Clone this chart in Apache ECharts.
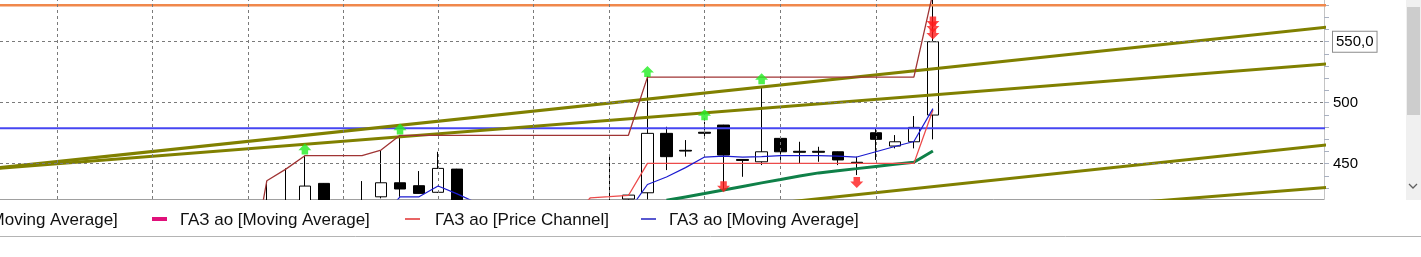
<!DOCTYPE html>
<html><head><meta charset="utf-8">
<script src="https://cdn.jsdelivr.net/npm/echarts@6/dist/echarts.min.js"></script>
<style>html,body{margin:0;padding:0;background:#fff;overflow:hidden}#c{width:1421px;height:257px}</style>
</head><body><div id="c"></div>
<script>
// ---- data (bar index along the time axis, prices in roubles) ----
const candleIdx   = [14,15,16,17,19,20,21,22,23,24,32,33,34,35,36,37,38,39,40,41,42,43,44,45,46,47,48,49];
const candleOpen  = [418,419,418,433.9,419,422.9,434.4,432.0,426.6,445.6,419,421.1,426.2,474.9,461.0,475.8,481.7,453.5,451.6,470.8,460.2,460.2,459.8,451.2,475.4,464.5,468.0,489.9];
const candleClose = [417,417.5,431.7,418,417.5,434.4,429.3,425.7,446.2,417,417.5,424.3,474.9,455.8,460.4,475.0,457.1,452.7,459.8,459.8,459.4,459.4,453.1,450.4,470.0,468.0,479.8,550.0];
const candleLow   = [416.5,416.5,416.5,416.5,416.5,421.6,422.9,425.5,426.0,416.5,416.5,420.6,420.8,444.8,455.8,472.1,428.4,439.3,448.9,453.1,450.3,451.6,448.9,440.7,453.1,462.6,462.6,470.0];
const candleHigh  = [435.8,446.2,456.6,434.2,435.8,461.2,473.5,444.0,459.8,445.8,458.0,424.6,521.9,480.3,469.4,484.4,481.9,453.6,512.6,471.0,468.0,463.9,460.0,455.8,479.0,473.5,489.1,590];

const chanUpIdx = [13,14,15,16,17,18,19,20,21,22,23,24,25,26,27,28,29,30,31,32,33,34,35,36,37,38,39,40,41,42,43,44,45,46,47,48,49];
const chanUp    = [350,436.0,445.6,456.6,456.6,456.6,456.6,461.2,473.3,473.3,473.3,473.3,473.3,473.3,473.3,473.3,473.3,473.3,473.3,473.3,473.3,521.0,521.0,521.0,521.0,521.0,521.0,521.0,521.0,521.0,521.0,521.0,521.0,521.0,521.0,521.0,590];
const chanLowIdx = [30,31,32,33,34,35,36,37,38,39,40,41,42,43,44,45,46,47,48,49];
const chanLow    = [405,422.1,423.0,424.0,450.3,450.3,450.3,450.3,450.3,450.3,450.3,450.3,450.3,450.3,450.3,450.3,450.3,450.3,450.3,494.0];

const maBlueIdx = [20,21,22,23,24,25,26,27,28,29,30,31,32,33,34,35,36,37,38,39,40,41,42,43,44,45,46,47,48,49];
const maBlue    = [405,422.9,422.9,431.7,425.3,418.1,null,null,null,null,null,null,null,411,433.0,439.1,446.8,455.5,456.3,455.5,455.9,456.6,456.7,456.6,456.3,455.5,459.8,464.1,468.2,495.2];
const maGreenIdx = [35,36,37,38,39,40,41,42,43,44,45,46,47,48,49];
const maGreen    = [420.0,422.8,425.6,428.5,431.4,434.3,437.1,440.0,442.5,444.3,446.0,447.8,449.5,451.2,460.4];

const buyIdx   = [16,21,34,37,40];
const buyPrice = [462.0,478.4,525.6,490.2,519.7];
const sellIdx   = [38,45,49,49,49];
const sellPrice = [431.1,434.6,566.1,562.0,556.3];

const levelOrange = 579.8;
const levelBlue = 479.0;
const trendA = [[-1,445.2],[70,562.5]];
const trendB = [[-1,445.2],[70,532.2]];
const trendC = [[35,408.1],[70,466.0]];
const trendD = [[50,406.4],[70,430.9]];

const weekIdx = [3,8,13,18,23,28,32,37,41,46];
const yLabels = [450,500,550];
const yMinorTicks = [430,440,450,460,470,480,490,500,510,520,530,540,550,560,570,580];
const legendItems = [
  {name:'ГАЗ ао [Moving Average]', color:'#e0107a', width:4, markerX:null, textX:-72},
  {name:'ГАЗ ао [Moving Average]', color:'#e0107a', width:4, markerX:152, textX:180},
  {name:'ГАЗ ао [Price Channel]', color:'#e03030', width:1.5, markerX:405, textX:435},
  {name:'ГАЗ ао [Moving Average]', color:'#2020c0', width:1.5, markerX:641, textX:669}
];

// ---- build ----
const zip = (xs, ys) => xs.map((x,i)=>[x, ys[i]]);
const candles = candleIdx.map((x,i)=>[x, candleOpen[i], candleClose[i], candleLow[i], candleHigh[i]]);
const upArrow = 'path://M6,0 L12,6 L9,6 L9,10 L3,10 L3,6 L0,6 Z';
const downArrow = 'path://M3,0 L9,0 L9,4 L12,4 L6,10 L0,4 L3,4 Z';
const FONT = '"Liberation Sans", Arial, sans-serif';

const graphics = [
  {type:'rect', shape:{x:0,y:200,width:1324,height:9}, style:{fill:'#ffffff'}, z:100, silent:true},
  {type:'rect', shape:{x:1406,y:0,width:15,height:200}, style:{fill:'#f0f0f0'}, silent:true},
  {type:'rect', shape:{x:1407,y:7,width:13,height:108}, style:{fill:'#cdcdcd'}, silent:true},
  {type:'polyline', shape:{points:[[1409,184],[1413,188],[1417,184]]}, style:{stroke:'#606060',lineWidth:1.3,fill:null}, silent:true},
  {type:'line', shape:{x1:0,y1:236.5,x2:1421,y2:236.5}, style:{stroke:'#b4b4b4',lineWidth:1}, silent:true}
];
legendItems.forEach(it=>{
  if (it.markerX !== null) graphics.push({type:'line', shape:{x1:it.markerX,y1:219,x2:it.markerX+15,y2:219}, style:{stroke:it.color,lineWidth:it.width}, z:100, silent:true});
  graphics.push({type:'text', style:{text:it.name, x:it.textX, y:220, font:'17px '+FONT, fill:'#101010', verticalAlign:'middle', textVerticalAlign:'middle'}, z:100, silent:true});
});

const lineS = (data, color, width, z) => ({type:'line', data, showSymbol:false, symbol:'none', lineStyle:{color, width}, z, silent:true, animation:false, connectNulls:false, clip:true});

const option = {
  animation:false,
  backgroundColor:'#ffffff',
  grid:{left:0, right:97, top:0, bottom:58, containLabel:false},
  xAxis:{type:'value', min:-0.02, max:69.55, axisLine:{show:true, onZero:false, lineStyle:{color:'#a0a0a0'}}, axisTick:{show:false}, axisLabel:{show:false}, splitLine:{show:false}},
  yAxis:{type:'value', position:'right', min:421.1, max:584.2, scale:true,
    axisLine:{show:true, onZero:false, lineStyle:{color:'#c4c4c4'}},
    axisTick:{show:true, customValues:yMinorTicks, length:5, lineStyle:{color:'#a8b0c0'}},
    axisLabel:{show:true, customValues:yLabels, margin:9, fontSize:15, fontFamily:FONT, color:'#000',
      formatter:v=> v===550 ? '{b|550,0}' : String(v),
      rich:{b:{fontSize:15, fontFamily:FONT, color:'#000', borderColor:'#8c8c8c', borderWidth:1, padding:[3,3,2,3], backgroundColor:'#fff'}}},
    splitLine:{show:false}},
  graphic:graphics,
  series:[
    {type:'scatter', data:[], z:1, silent:true,
      markLine:{silent:true, symbol:['none','none'], label:{show:false}, animation:false,
        lineStyle:{color:'#7a7a7a', type:[3,3], width:1},
        data: weekIdx.map(v=>({xAxis:v})).concat(yLabels.map(v=>({yAxis:v})))}},
    {type:'candlestick', data:candles, barWidth:12, z:3, silent:true, clip:true,
      itemStyle:{color:'#ffffff', color0:'#000000', borderColor:'#000000', borderColor0:'#000000', borderWidth:1}},
    lineS([[-1,levelOrange],[70,levelOrange]], '#f0884c', 2.5, 4),
    lineS([[-1,levelBlue],[70,levelBlue]], '#4646f2', 2, 4),
    lineS(trendA, '#808000', 3, 4),
    lineS(trendB, '#808000', 3, 4),
    lineS(trendC, '#808000', 3, 4),
    lineS(trendD, '#808000', 3, 4),
    lineS(zip(maGreenIdx, maGreen), '#0f8048', 3, 5),
    lineS(zip(chanUpIdx, chanUp), '#a03434', 1.3, 5),
    lineS(zip(chanLowIdx, chanLow), '#ec4a4a', 1.3, 5),
    lineS(zip(maBlueIdx, maBlue), '#1c1cd0', 1.2, 5),
    {type:'scatter', data:zip(buyIdx,buyPrice), symbol:upArrow, symbolSize:[13,11], itemStyle:{color:'#22ee22'}, z:6, silent:true},
    {type:'scatter', data:zip(sellIdx,sellPrice), symbol:downArrow, symbolSize:[13,11], itemStyle:{color:'#ff1a1a'}, z:6, silent:true}
  ]
};
const chart = echarts.init(document.getElementById('c'), null, {renderer:'canvas'});
chart.setOption(option);
</script></body></html>
